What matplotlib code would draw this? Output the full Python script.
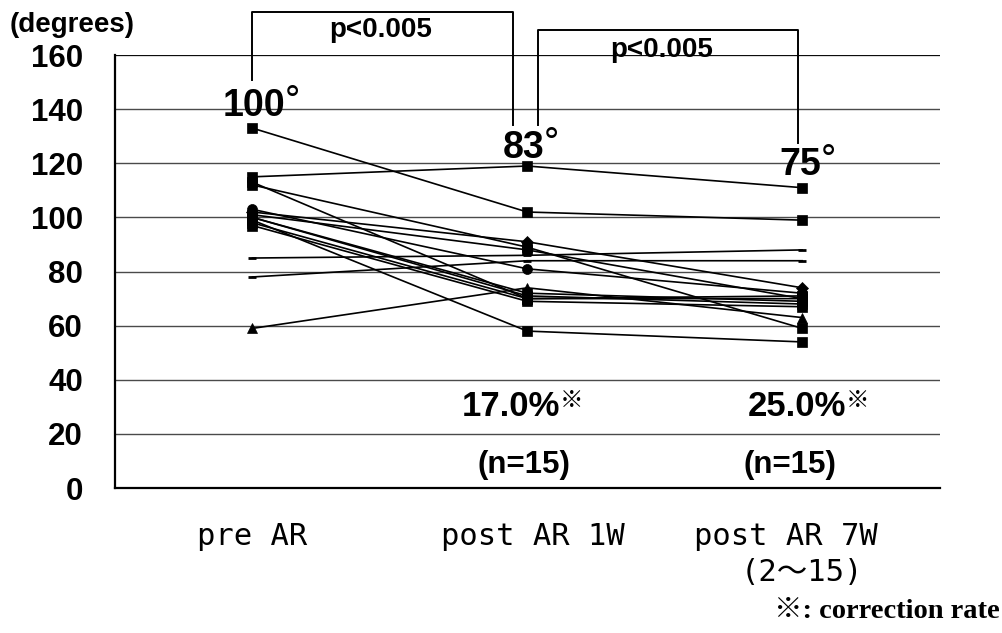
import matplotlib
matplotlib.use("Agg")
import matplotlib.pyplot as plt

# Time points and per-patient angles (degrees)
categories = ["pre AR", "post AR 1W", "post AR 7W"]
sub_label = "(2～15)"
pre_ar = [133, 115, 113, 112, 103, 102, 101, 100, 100, 99, 98, 97, 85, 78, 59]
post_1w = [102, 119, 70, 89, 81, 91, 88, 72, 71, 58, 70, 69, 86, 84, 74]
post_7w = [99, 111, 70, 59, 72, 74, 70, 69, 68, 54, 71, 67, 88, 84, 63]
markers = ["s", "s", "s", "s", "o", "D", "s", "s", "s", "s", "s", "s", "_", "_", "^"]

mean_labels = ["100", "83", "75"]
rate_labels = ["17.0%", "25.0%"]
n_labels = ["(n=15)", "(n=15)"]
p_labels = ["p<0.005", "p<0.005"]
yticks = [0, 20, 40, 60, 80, 100, 120, 140, 160]

SANS = "Liberation Sans"
GOTHIC = ["DejaVu Sans Mono", "Noto Sans CJK JP"]

fig = plt.figure(figsize=(10.03, 6.33), dpi=100)
ax = fig.add_axes([0.1147, 0.229, 0.822, 0.684])
ax.set_xlim(-0.5, 2.5)
ax.set_ylim(0, 160)

# grid and frame
ax.set_yticks(yticks)
ax.yaxis.grid(True, color="#4a4a4a", lw=1.0)
ax.set_axisbelow(True)
for s in ("top", "right"):
    ax.spines[s].set_visible(False)
for s in ("left", "bottom"):
    ax.spines[s].set_linewidth(1.6)
    ax.spines[s].set_color("black")
ax.axhline(160, color="black", lw=1.2, zorder=1)
ax.set_xticks([])
ax.tick_params(axis="y", length=0, pad=23)
for lab in ax.get_yticklabels():
    lab.set_fontfamily(SANS)
    lab.set_fontweight("bold")
    lab.set_fontsize(22.5)

# individual patients
xs = list(range(len(categories)))
for a, b, c, m in zip(pre_ar, post_1w, post_7w, markers):
    ms = {"s": 6.8, "o": 7.2, "D": 6.2, "^": 7.8, "_": 6}[m]
    ax.plot(xs, [a, b, c], color="black", lw=1.2, marker=m, ms=ms,
            mew=2 if m == "_" else 0.5, mfc="black", mec="black",
            zorder=3, clip_on=False)

# category labels
xt = ax.get_xaxis_transform()
label_dx = [0.0, 0.02, -0.06]
for i, (name, dx) in enumerate(zip(categories, label_dx)):
    ax.text(i + dx, -0.111, name, transform=xt, ha="center", va="center",
            fontsize=22, family=GOTHIC)
ax.text(2.0, -0.194, sub_label, transform=xt, ha="center", va="center",
        fontsize=22, family=GOTHIC)

# means
mean_pos = [(-0.11, 137.4), (0.911, 121.9), (1.918, 115.6)]
for lab, (x, y) in zip(mean_labels, mean_pos):
    t = ax.text(x, y, lab, ha="left", va="baseline", fontsize=27,
                fontweight="bold", family=SANS, clip_on=False)
    ax.annotate("°", xy=(1, 1), xycoords=t, xytext=(-1, 3),
                textcoords="offset points", ha="left", va="top",
                fontsize=25, family="DejaVu Sans")

# correction rates and counts
for lab, x in zip(rate_labels, [0.762, 1.802]):
    t = ax.text(x, 30, lab, ha="left", va="center", fontsize=25,
                fontweight="bold", family=SANS)
    ax.annotate("※", xy=(1, 1), xycoords=t, xytext=(0, 1),
                textcoords="offset points", ha="left", va="top",
                fontsize=17, family=["Noto Sans CJK JP"])
for lab, x in zip(n_labels, [0.987, 1.955]):
    ax.text(x, 8.5, lab, ha="center", va="center", fontsize=22.5,
            fontweight="bold", family=SANS)

# significance brackets
brackets = [((0.0, 0.947), (150.7, 175.8, 134.1)),
            ((1.038, 1.985), (134.1, 169.2, 127.4))]
for (x0, x1), (yl, ytop, yr) in brackets:
    ax.plot([x0, x0, x1, x1], [yl, ytop, ytop, yr], color="black", lw=1.4,
            clip_on=False, zorder=4)
p_pos = [(0.467, 169.2), (1.489, 161.8)]
for lab, (x, y) in zip(p_labels, p_pos):
    ax.text(x, y, lab, ha="center", va="center", fontsize=20,
            fontweight="bold", family=SANS, clip_on=False)

fig.text(0.01, 1 - 25 / 633, "(degrees)", ha="left", va="center",
         fontsize=20, fontweight="bold", family=SANS)
fig.text(0.997, 1 - 612 / 633, "※: correction rate", ha="right", va="center",
         fontsize=20.5, fontweight="bold", family=["Liberation Serif", "Noto Sans CJK JP"])

fig.savefig("out.png", dpi=100)
